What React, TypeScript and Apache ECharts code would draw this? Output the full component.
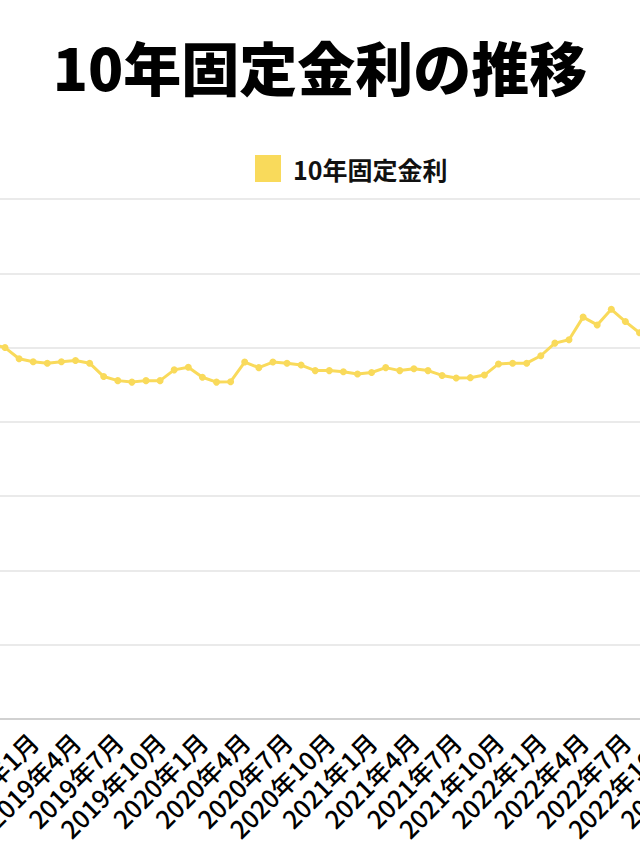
import React, { useEffect, useRef } from "react";
import * as echarts from "echarts";

const months: string[] = [];
for (let y = 2018; y <= 2023; y++) {
  for (let m = 1; m <= 12; m++) {
    if (y === 2023 && m > 3) break;
    months.push(`${y}年${m}月`);
  }
}

const rates2018 = [1.05, 1.05, 1.04, 1.04, 1.03, 1.03, 1.02, 1.03, 1.03, 1.01, 1.0, 0.97];
const rates2019 = [0.962, 0.958, 0.962, 0.965, 0.958, 0.922, 0.911, 0.907, 0.911, 0.911, 0.94, 0.947];
const rates2020 = [0.92, 0.907, 0.908, 0.961, 0.946, 0.961, 0.958, 0.953, 0.938, 0.938, 0.935, 0.929];
const rates2021 = [0.933, 0.946, 0.938, 0.943, 0.938, 0.925, 0.918, 0.919, 0.926, 0.956, 0.958, 0.958];
const rates2022 = [0.978, 1.012, 1.021, 1.082, 1.061, 1.103, 1.07, 1.04, 1.09, 1.12, 1.14, 1.17];
const rates2023 = [1.25, 1.22, 1.2];

const rates = [...rates2018, ...rates2019, ...rates2020, ...rates2021, ...rates2022, ...rates2023];

const seriesName = "10年固定金利";
const titleText = "10年固定金利の推移";
const yTicks = { min: 0, max: 1.4, interval: 0.2 };

const OFFSET = 200;
const INNER_W = 1040;

export default function App() {
  const ref = useRef<HTMLDivElement>(null);
  useEffect(() => {
    if (!ref.current) return;
    const chart = echarts.init(ref.current, undefined, { renderer: "svg" });
    const font = "'Noto Sans CJK JP', 'Noto Sans', sans-serif";
    chart.setOption({
      animation: false,
      backgroundColor: "#ffffff",
      title: {
        text: titleText,
        left: "center",
        top: 32,
        textStyle: { fontSize: 58, fontWeight: 900, color: "#000", fontFamily: font },
      },
      legend: {
        data: [seriesName],
        left: 255 + OFFSET,
        top: 155,
        padding: 0,
        icon: "rect",
        itemWidth: 26,
        itemHeight: 27,
        textStyle: { fontSize: 25, fontWeight: "bold", color: "#111", fontFamily: font, padding: [0, 0, 0, 7] },
      },
      grid: {
        left: 64,
        right: 101.8,
        top: 199,
        bottom: 134,
        containLabel: false,
        outerBoundsMode: "none",
      },
      xAxis: {
        type: "category",
        data: months,
        boundaryGap: false,
        axisTick: { show: false },
        axisLine: { lineStyle: { color: "#c8c8c8", width: 1.5 } },
        axisLabel: {
          interval: 2,
          rotate: 45,
          fontSize: 25,
          color: "#000",
          fontFamily: font,
          fontWeight: 500,
          margin: 18,
        },
      },
      yAxis: {
        type: "value",
        min: yTicks.min,
        max: yTicks.max,
        interval: yTicks.interval,
        axisLine: { show: false },
        axisTick: { show: false },
        splitLine: { lineStyle: { color: "#e3e3e3", width: 1.5 } },
        axisLabel: { show: false },
      },
      series: [
        {
          name: seriesName,
          type: "line",
          data: rates,
          symbol: "circle",
          symbolSize: 7,
          showSymbol: true,
          showAllSymbol: true,
          lineStyle: { color: "#F9DA5B", width: 3 },
          itemStyle: { color: "#F9DA5B" },
        },
      ],
    });
    return () => chart.dispose();
  }, []);
  return (
    <div style={{ position: "absolute", left: 0, top: 0, width: 640, height: 853, overflow: "hidden", background: "#fff" }}>
      <div
        ref={ref}
        style={{ position: "absolute", left: -OFFSET, top: 0, width: INNER_W, height: 853 }}
      />
    </div>
  );
}
